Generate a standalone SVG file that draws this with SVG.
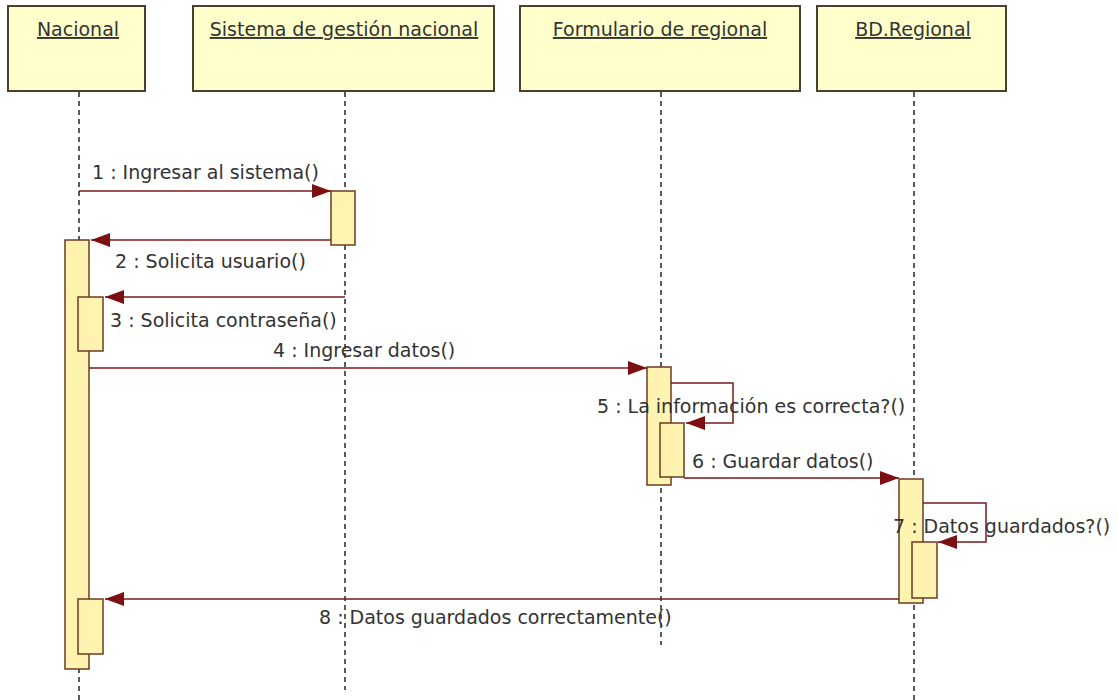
<svg xmlns="http://www.w3.org/2000/svg" width="1118" height="700" viewBox="0 0 1118 700">
<style>
.bg{fill:#ffffff}
.head{fill:#ffffcc;stroke:#4e3e32;stroke-width:2}
.htxt{font-family:"DejaVu Sans",Verdana,sans-serif;font-size:19px;fill:#333333;text-anchor:middle;text-decoration:underline}
.life{stroke:#333333;stroke-width:1.6;stroke-dasharray:5 4;fill:none}
.act{fill:#fff3b0;stroke:#6b3b22;stroke-width:1.5}
.msg{stroke:#7a1a1a;stroke-width:1.5;fill:none}
.lbl{font-family:"DejaVu Sans",Verdana,sans-serif;font-size:19px;fill:#333333}
</style>
<defs>
<marker id="ah" markerUnits="userSpaceOnUse" markerWidth="20" markerHeight="14" refX="19" refY="7" orient="auto">
<path d="M0,0 L19,7 L0,14 z" fill="#7d0f12"/>
</marker>
</defs>
<rect class="bg" x="0" y="0" width="1118" height="700"/>
<g id="nacional">
<rect class="head" x="8" y="6" width="137" height="85"/>
<text class="htxt" x="78" y="36">Nacional</text>
<line class="life" x1="79" y1="92" x2="79" y2="700"/>
<rect class="act" x="65" y="240" width="24" height="429"/>
<rect class="act" x="78" y="297" width="25" height="54"/>
<rect class="act" x="78" y="599" width="25" height="55"/>
</g>
<g id="sistema">
<rect class="head" x="193" y="6" width="301" height="85"/>
<text class="htxt" x="344" y="36">Sistema de gestión nacional</text>
<line class="life" x1="345" y1="92" x2="345" y2="690"/>
<rect class="act" x="331" y="191" width="24" height="54"/>
</g>
<g id="formulario">
<rect class="head" x="520" y="6" width="280" height="85"/>
<text class="htxt" x="660" y="36">Formulario de regional</text>
<line class="life" x1="661" y1="92" x2="661" y2="645"/>
<rect class="act" x="647" y="367" width="24" height="118"/>
<rect class="act" x="660" y="423" width="24" height="54"/>
</g>
<g id="bdregional">
<rect class="head" x="817" y="6" width="189" height="85"/>
<text class="htxt" x="913" y="36">BD.Regional</text>
<line class="life" x1="914" y1="92" x2="914" y2="700"/>
<rect class="act" x="899" y="479" width="24" height="124"/>
<rect class="act" x="912" y="542" width="25" height="56"/>
</g>
<g id="connectors">
<line class="msg" x1="79" y1="191" x2="331" y2="191" marker-end="url(#ah)"/>
<line class="msg" x1="331" y1="240" x2="91" y2="240" marker-end="url(#ah)"/>
<line class="msg" x1="345" y1="297" x2="105" y2="297" marker-end="url(#ah)"/>
<line class="msg" x1="89" y1="368" x2="647" y2="368" marker-end="url(#ah)"/>
<polyline class="msg" points="671,383 733,383 733,423 686,423" marker-end="url(#ah)"/>
<line class="msg" x1="684" y1="478" x2="899" y2="478" marker-end="url(#ah)"/>
<polyline class="msg" points="923,503 986,503 986,542 938,542" marker-end="url(#ah)"/>
<line class="msg" x1="899" y1="599" x2="105" y2="599" marker-end="url(#ah)"/>
<text class="lbl" x="92" y="179">1 : Ingresar al sistema()</text>
<text class="lbl" x="115" y="268">2 : Solicita usuario()</text>
<text class="lbl" x="110" y="327">3 : Solicita contraseña()</text>
<text class="lbl" x="273" y="357">4 : Ingresar datos()</text>
<text class="lbl" x="597" y="413">5 : La información es correcta?()</text>
<text class="lbl" x="692" y="468">6 : Guardar datos()</text>
<text class="lbl" x="893" y="533">7 : Datos guardados?()</text>
<text class="lbl" x="319" y="624">8 : Datos guardados correctamente()</text>
</g>
</svg>
